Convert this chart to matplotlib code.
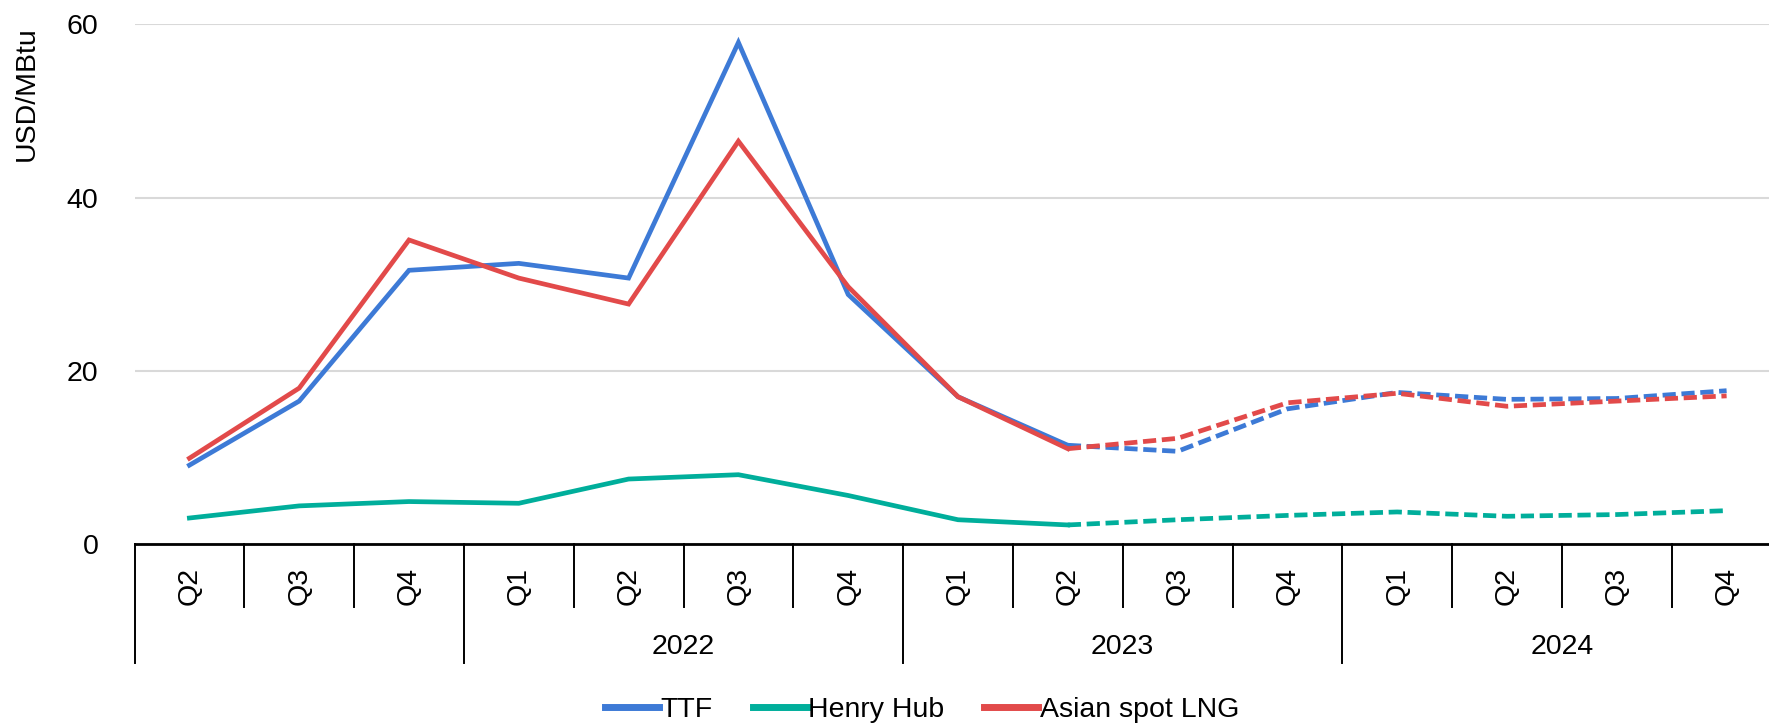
import matplotlib
matplotlib.use("Agg")
import matplotlib.pyplot as plt
from matplotlib.lines import Line2D

plt.rcParams['font.family'] = ['Liberation Sans', 'DejaVu Sans']

quarters = ["Q2", "Q3", "Q4", "Q1", "Q2", "Q3", "Q4", "Q1", "Q2", "Q3", "Q4", "Q1", "Q2", "Q3", "Q4"]
years = ["", "2022", "2023", "2024"]
year_spans = [(0, 2), (3, 6), (7, 10), (11, 14)]
ttf = [9.1, 16.5, 31.6, 32.4, 30.7, 57.9, 28.8, 17.0, 11.4, 10.7, 15.6, 17.5, 16.7, 16.8, 17.7]
henry_hub = [3.0, 4.4, 4.9, 4.7, 7.5, 8.0, 5.6, 2.8, 2.2, 2.8, 3.3, 3.7, 3.2, 3.4, 3.85]
asian_lng = [9.9, 18.0, 35.1, 30.7, 27.7, 46.5, 29.7, 17.0, 11.0, 12.2, 16.3, 17.4, 15.9, 16.5, 17.1]
forecast_start = 8

series = [("TTF", ttf, "#3D7AD6"), ("Henry Hub", henry_hub, "#00AE9B"), ("Asian spot LNG", asian_lng, "#E24A4A")]

W, H = 1769, 725
fig = plt.figure(figsize=(W / 100, H / 100), dpi=100)
left_px, right_px, top_px, bot_px = 134.5, 1781.5, 24.3, 544.0
ax = fig.add_axes([left_px / W, 1 - bot_px / H, (right_px - left_px) / W, (bot_px - top_px) / H])

FS = 20.5
LW = 3.4
x = list(range(len(quarters)))
for name, vals, col in series:
    ax.plot(x[:forecast_start + 1], vals[:forecast_start + 1], color=col, lw=LW,
            solid_joinstyle='miter', zorder=3)
    ax.plot(x[forecast_start:], vals[forecast_start:], color=col, lw=LW,
            linestyle=(0, (2.8, 1.2)), zorder=3)

ax.set_xlim(-0.5, len(quarters) - 0.5)
ax.set_ylim(0, 60)
ax.set_yticks([0, 20, 40, 60])
ax.set_yticklabels(["0", "20", "40", "60"], fontsize=FS)
ax.tick_params(axis='y', length=0, pad=26)
ax.set_xticks([])
ax.grid(axis='y', color='#D9D9D9', lw=1.5, zorder=0)
ax.set_axisbelow(True)
for s in ['left', 'right', 'top']:
    ax.spines[s].set_visible(False)
ax.spines['bottom'].set_linewidth(2.0)
ax.spines['bottom'].set_color('black')
ax.spines['bottom'].set_zorder(4)

ah = bot_px - top_px
def yfrac(ypx):
    return (bot_px - ypx) / ah

tr = ax.get_xaxis_transform()
year_bounds = [s[0] - 0.5 for s in year_spans] + [year_spans[-1][1] + 0.5]
for i in range(len(quarters) + 1):
    b = i - 0.5
    y_end = yfrac(663.3) if b in year_bounds else yfrac(607.3)
    ax.plot([b, b], [0, y_end], transform=tr, color='black', lw=1.4, clip_on=False)

for i, q in enumerate(quarters):
    ax.text(i, yfrac(586), q, transform=tr, rotation=90, ha='center', va='center', fontsize=FS)

for label, (a, b) in zip(years, year_spans):
    if label:
        ax.text((a + b) / 2, yfrac(646.5), label, transform=tr, ha='center', va='center', fontsize=FS)

fig.text(27 / W, 1 - 94 / H, "USD/MBtu", rotation=90, ha='center', va='center', fontsize=FS)

handles = [Line2D([0], [0], color=c, lw=5) for _, _, c in series]
fig.legend(handles, [n for n, _, _ in series], loc='center',
           bbox_to_anchor=(922 / W, 1 - 710 / H), bbox_transform=fig.transFigure,
           ncol=3, frameon=False, fontsize=FS, handlelength=1.9, handletextpad=0.05,
           columnspacing=1.4, borderpad=0)

fig.savefig("out.png", dpi=100)
